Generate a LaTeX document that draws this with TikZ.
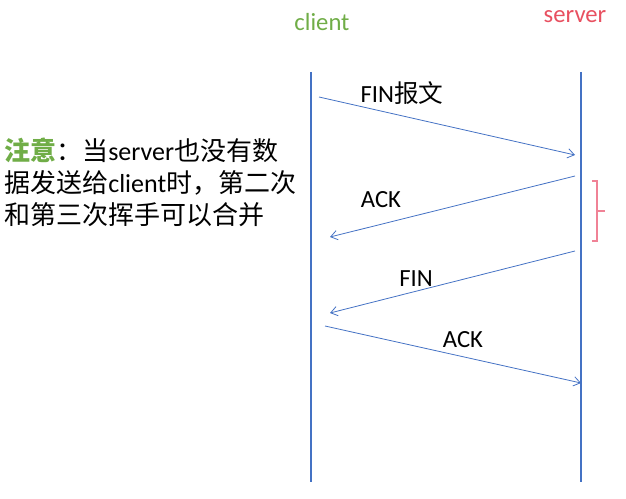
\documentclass[tikz,border=0pt]{standalone}
\usepackage{fontspec}
\setmainfont{Carlito}
\newfontfamily\cjk{Noto Sans CJK SC}
\usetikzlibrary{arrows.meta}

\definecolor{clientgreen}{RGB}{112,173,71}
\definecolor{serverred}{RGB}{232,80,96}
\definecolor{bracketpink}{RGB}{240,130,150}
\definecolor{lineblue}{RGB}{68,114,196}

\tikzset{
  lifeline/.style={draw=lineblue, line width=1pt},
  msg/.style={draw=lineblue, line width=0.6pt, -{Straight Barb[length=5pt,width=7pt]}},
  lbl/.style={font=\fontsize{18.5}{20}\selectfont, inner sep=0pt},
}

\begin{document}
\begin{tikzpicture}[x=0.75pt,y=-0.75pt]
                \useasboundingbox (0,0) rectangle (626,499);
                \node[lbl, text=clientgreen] (client) at (322,22) {client};
                \node[lbl, text=serverred] (server) at (575,17) {server};
                \coordinate (ctop) at (311,72);
                \coordinate (cbot) at (311,482);
                \coordinate (stop) at (581,72);
                \coordinate (sbot) at (581,482);
                \draw[lifeline] (ctop) -- (cbot);
                \draw[lifeline] (stop) -- (sbot);
                % wave hands
                \coordinate (c1) at (319,97);
                \coordinate (s1) at (575,155);
                \coordinate (s2) at (575,176);
                \coordinate (c2) at (330,237);
                \coordinate (s3) at (575,251);
                \coordinate (c3) at (330,313);
                \coordinate (c4) at (325,326);
                \coordinate (s4) at (581,383);
                \draw[msg] (c1) -- (s1);
                \draw[msg] (s2) -- (c2);
                \draw[msg] (s3) -- (c3);
                \draw[msg] (c4) -- (s4);
                \node[lbl] (fin1) at (402,93) {FIN{\cjk 报文}};
                \node[lbl] (ack1) at (381,200) {ACK};
                \node[lbl] (fin2) at (416,279) {FIN};
                \node[lbl] (ack2) at (463,340) {ACK};
                % bracket
                \draw[bracketpink, line width=0.8pt] (592,181) -- (597,181) -- (597,241) -- (592,241);
                \draw[bracketpink, line width=0.8pt] (597,211) -- (605,211);
                \node[anchor=west, align=left, inner sep=0pt, font=\fontsize{19.5}{24}\selectfont\cjk] (note) at (4,182)
                  {{\color{clientgreen}\bfseries 注意}：当{\rmfamily server}也没有数\\
                   据发送给{\rmfamily client}时，第二次\\
                   和第三次挥手可以合并};
            \end{tikzpicture}
\end{document}
